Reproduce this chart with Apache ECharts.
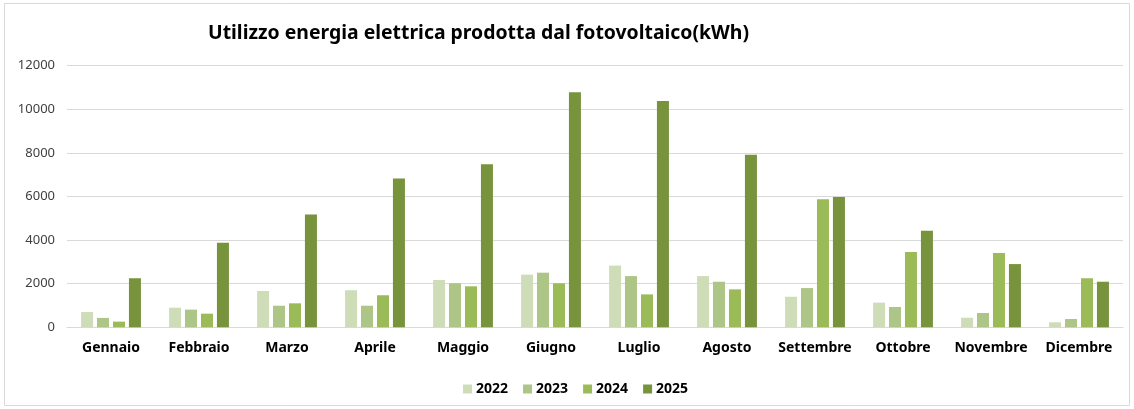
<!DOCTYPE html>
<html><head><meta charset="utf-8">
<script src="https://cdn.jsdelivr.net/npm/echarts@6/dist/echarts.min.js"></script>
<style>html,body{margin:0;padding:0;background:#fff}#c{width:1134px;height:409px}</style>
</head><body><div id="c"></div>
<script>
const categories = ['Gennaio','Febbraio','Marzo','Aprile','Maggio','Giugno','Luglio','Agosto','Settembre','Ottobre','Novembre','Dicembre'];
const years = ['2022','2023','2024','2025'];
const v2022 = [700, 900, 1665, 1700, 2170, 2415, 2830, 2350, 1400, 1130, 440, 230];
const v2023 = [430, 810, 990, 990, 2020, 2505, 2350, 2090, 1800, 930, 655, 380];
const v2024 = [260, 625, 1100, 1470, 1880, 2020, 1510, 1740, 5870, 3450, 3410, 2250];
const v2025 = [2250, 3880, 5180, 6820, 7480, 10780, 10380, 7920, 5980, 4430, 2900, 2090];
const colors = ['#cfdcb8', '#aec588', '#9bbb59', '#77933c'];
const yTicks = {min: 0, max: 12000, interval: 2000};

const chart = echarts.init(document.getElementById('c'));
const font = 'Noto Sans, sans-serif';
const vals = [v2022, v2023, v2024, v2025];
chart.setOption({
  animation: false,
  textStyle: {fontFamily: font},
  graphic: [{type: 'rect', shape: {x: 4.5, y: 3.5, width: 1125, height: 402}, style: {fill: 'none', stroke: '#d9d9d9', lineWidth: 1}, silent: true}],
  title: {
    text: 'Utilizzo energia elettrica prodotta dal fotovoltaico(kWh)',
    left: 203, top: 19,
    textStyle: {fontFamily: font, fontSize: 19.4, fontWeight: 'bold', color: '#000'}
  },
  legend: {
    data: years, left: 458, top: 377,
    itemWidth: 9, itemHeight: 9, itemGap: 15,
    icon: 'rect',
    textStyle: {fontFamily: font, fontSize: 14, fontWeight: 'bold', color: '#000', padding: [0, 0, 0, -1]}
  },
  grid: {left: 67, right: 11, top: 65.7, bottom: 81.7, containLabel: false},
  xAxis: {
    type: 'category', data: categories,
    axisLine: {lineStyle: {color: '#d9d9d9', width: 1}},
    axisTick: {show: false},
    axisLabel: {interval: 0, fontFamily: font, fontSize: 14, fontWeight: 'bold', color: '#000', margin: 14}
  },
  yAxis: {
    type: 'value', min: yTicks.min, max: yTicks.max, interval: yTicks.interval,
    axisLine: {show: false}, axisTick: {show: false},
    splitLine: {lineStyle: {color: '#d9d9d9', width: 1}},
    axisLabel: {formatter: v => String(v), fontFamily: font, fontSize: 13, color: '#404040', margin: 12}
  },
  series: years.map((y, i) => ({
    name: y, type: 'bar', data: vals[i],
    barWidth: 12, barGap: '33%',
    itemStyle: {color: colors[i]}
  }))
});
</script></body></html>
